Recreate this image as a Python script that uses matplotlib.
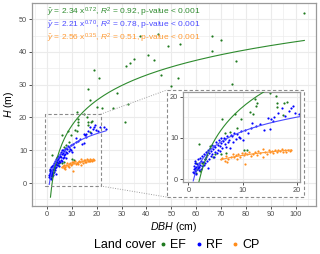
import numpy as np
import matplotlib
matplotlib.use('Agg')
import matplotlib.pyplot as plt
from matplotlib.patches import Rectangle
from matplotlib.lines import Line2D
from matplotlib.ticker import MultipleLocator

plt.rcParams['font.family'] = ['Liberation Sans', 'DejaVu Sans']
plt.rcParams['mathtext.fontset'] = 'custom'
plt.rcParams['mathtext.rm'] = 'Liberation Sans'
plt.rcParams['mathtext.it'] = 'Liberation Sans:italic'

# EF (evergreen forest)
ef_dbh = [16.5, 19.0, 21.0, 17.3, 20.0, 22.1, 26.6, 28.0, 32.4, 31.6, 33.4, 35.0, 40.5, 43.1,
          44.8, 37.4, 66.2, 70.0, 66.2, 53.5, 48.8, 45.7, 52.5, 75.9, 74.3, 49.7, 103.5, 31.4,
          1.6, 1.4, 1.5, 1.8, 2.0, 2.2, 2.5, 3.0, 3.5, 4.0, 4.5, 5.0, 6.0, 6.2, 6.8, 7.0, 7.7,
          8.6, 8.9, 9.7, 10.2, 10.8, 11.4, 11.9, 11.9, 12.3, 12.4, 12.6, 15.0, 16.1, 16.4, 16.4,
          17.5, 17.6, 18.2]
ef_h = [28.7, 34.6, 32.1, 25.3, 23.3, 22.9, 22.9, 27.4, 24.0, 35.7, 36.6, 37.8, 39.1, 37.5,
        45.6, 44.8, 44.8, 43.6, 40.2, 42.3, 41.9, 32.9, 32.1, 37.1, 30.1, 29.6, 52.0, 18.5,
        2.5, 3.9, 1.5, 3.0, 8.5, 2.0, 4.0, 5.0, 6.5, 8.0, 5.5, 6.2, 6.0, 14.7, 11.1, 6.4, 11.5,
        15.9, 12.4, 14.7, 7.2, 7.0, 16.3, 15.9, 21.7, 19.5, 17.7, 18.5, 21.0, 20.2, 18.6, 17.6,
        15.7, 18.6, 18.8]

# RF
rf_dbh = [0.9, 1.0, 1.1, 1.1, 1.2, 1.2, 1.3, 1.3, 1.4, 1.5, 1.5, 1.6, 1.7, 1.7, 1.8, 1.9, 2.0,
          2.0, 2.1, 2.2, 2.3, 2.4, 2.5, 2.6, 2.7, 2.8, 2.9, 3.0, 3.1, 3.2, 3.3, 3.4, 3.5, 3.6,
          3.7, 3.8, 3.9, 4.0, 4.1, 4.2, 4.3, 4.4, 4.5, 4.7, 4.8, 4.9, 5.0, 5.1, 5.2, 5.4, 5.5,
          5.6, 5.8, 5.9, 6.0, 6.1, 6.3, 6.4, 6.5, 6.7, 6.8, 7.0, 7.1, 7.3, 7.5, 7.6, 7.8, 8.0,
          8.2, 8.5, 8.7, 9.0, 9.3, 9.5, 9.8, 10.0, 10.4, 11.0, 11.5, 11.8, 12.5, 13.2, 14.0,
          14.7, 15.0, 15.3, 15.6, 15.8, 16.5, 17.3, 17.8, 18.5, 19.0, 19.3, 19.7, 20.5, 21.3,
          22.9, 23.7]
rf_h = [1.8, 2.5, 3.2, 1.5, 2.0, 3.8, 2.8, 4.3, 2.2, 3.0, 1.2, 3.6, 2.6, 4.8, 3.3, 2.1, 4.0,
        2.9, 5.2, 3.5, 2.4, 4.4, 3.1, 5.6, 4.2, 3.4, 6.0, 4.8, 3.9, 5.4, 6.6, 4.5, 5.9, 7.2,
        2.7, 5.0, 6.3, 7.6, 5.6, 6.9, 8.3, 6.1, 7.3, 5.3, 8.0, 6.7, 7.8, 9.0, 6.4, 8.4, 7.1,
        9.4, 8.0, 6.8, 8.8, 10.0, 7.6, 9.2, 10.1, 8.5, 9.7, 7.9, 10.4, 9.0, 9.5, 7.6, 10.8,
        10.5, 9.1, 11.2, 9.8, 11.0, 10.3, 10.0, 11.6, 9.5, 12.0, 11.1, 12.5, 13.7, 12.8, 13.5,
        12.0, 14.9, 12.3, 14.6, 14.1, 15.1, 16.0, 17.2, 15.4, 16.6, 17.2, 17.7, 16.2, 15.8,
        17.1, 17.2, 16.6]

# CP
cp_dbh = [6.0, 6.3, 6.8, 7.0, 7.4, 7.8, 8.2, 8.5, 8.8, 9.2, 9.5, 9.9, 10.2, 10.4, 10.8, 11.2,
          11.5, 11.9, 12.3, 12.6, 12.9, 13.3, 13.8, 14.1, 14.5, 14.8, 15.1, 15.4, 15.7, 16.0,
          16.3, 16.6, 16.9, 17.2, 17.5, 17.8, 18.1, 18.4, 18.7, 19.0, 7.2, 9.0, 10.4, 13.8]
cp_h = [4.8, 5.2, 4.5, 5.6, 5.0, 5.5, 6.0, 5.3, 5.8, 6.2, 5.4, 6.4, 5.9, 3.7, 6.1, 6.6, 5.7,
        6.0, 6.5, 5.8, 6.8, 6.3, 5.4, 6.7, 6.2, 7.0, 6.5, 6.9, 6.4, 7.2, 6.6, 7.1, 6.8, 7.3,
        6.7, 7.0, 6.6, 7.2, 6.9, 7.0, 4.2, 5.0, 6.3, 7.4]

groups = ['EF', 'RF', 'CP']
pt_colors = ['#1f7a1f', '#0000ff', '#ff8c1a']
ln_colors = ['#2e8b2e', '#4a4aff', '#ff9a33']
eq_labels = [r'$\hat{y}$ = 2.34 x$^{0.72}$, $R^2$ = 0.92, p-value < 0.001',
             r'$\hat{y}$ = 2.21 x$^{0.70}$, $R^2$ = 0.78, p-value < 0.001',
             r'$\hat{y}$ = 2.56 x$^{0.35}$, $R^2$ = 0.51, p-value < 0.001']
data = [(ef_dbh, ef_h), (rf_dbh, rf_h), (cp_dbh, cp_h)]

grid_c = '#ebebeb'
border_c = '#9a9a9a'
tick_c = '#4d4d4d'

fig = plt.figure(figsize=(3.2, 2.54), dpi=100)
ax = fig.add_axes([0.101, 0.189, 0.8865, 0.799])


def style(a, maj, mnr, fs):
    a.xaxis.set_major_locator(MultipleLocator(maj))
    a.yaxis.set_major_locator(MultipleLocator(maj))
    a.xaxis.set_minor_locator(MultipleLocator(mnr))
    a.yaxis.set_minor_locator(MultipleLocator(mnr))
    a.grid(which='major', color=grid_c, lw=0.8)
    a.grid(which='minor', color=grid_c, lw=0.45)
    a.set_axisbelow(True)
    a.tick_params(which='major', length=2.2, width=0.6, color='#333333', labelsize=fs,
                  labelcolor=tick_c, pad=1.5)
    a.tick_params(which='minor', length=0)
    for s in a.spines.values():
        s.set_color(border_c)
        s.set_linewidth(0.9)


# fitted curves H ~ a + b*ln(DBH)
fits = []
for (x, y) in data:
    x = np.array(x)
    y = np.array(y)
    b, a = np.polyfit(np.log(x), y, 1)
    xs = np.linspace(x.min(), x.max(), 200)
    fits.append((xs, a + b * np.log(xs)))

for (x, y), c in zip(data, pt_colors):
    ax.scatter(x, y, s=2.5, color=c, lw=0, zorder=2)
for (xs, ys), c in zip(fits, ln_colors):
    ax.plot(xs, ys, color=c, lw=0.8, zorder=3)

for i, (lab, c) in enumerate(zip(eq_labels, ln_colors)):
    ax.text(0, 52.1 - 4.0 * i, lab, color=c, fontsize=6, va='center', ha='left', zorder=4)

ax.set_xlim(-5.9, 108.2)
ax.set_ylim(-7.0, 54.9)
style(ax, 10, 5, 5.3)
ax.set_xlabel(r'$DBH$ (cm)', fontsize=7.6, labelpad=1)
ax.set_ylabel(r'$H$ (m)', fontsize=7.6, labelpad=2)

# zoom box and connectors
ax.add_patch(Rectangle((-0.8, -0.9), 22.4, 21.9, fill=False, ec='#8a8a8a', lw=0.8,
                       ls=(0, (3, 2)), zorder=4))
ax.plot([21.6, 48.3], [21.0, 28.4], color='#a0a0a0', lw=0.7, ls=(0, (1, 1.5)), zorder=4)
ax.plot([21.6, 48.3], [-0.9, -4.3], color='#a0a0a0', lw=0.7, ls=(0, (1, 1.5)), zorder=4)
ax.add_patch(Rectangle((48.3, -4.3), 55.0, 32.7, fc='white', ec='#8a8a8a', lw=0.8,
                       ls=(0, (3, 2)), zorder=5))

# inset
axi = fig.add_axes([0.573, 0.283, 0.3645, 0.355])
for (x, y), c in zip(data, pt_colors):
    axi.scatter(x, y, s=2.5, color=c, lw=0, zorder=2)
for (xs, ys), c in zip(fits, ln_colors):
    axi.plot(xs, ys, color=c, lw=0.8, zorder=3)
axi.set_xlim(-0.92, 20.6)
axi.set_ylim(-0.73, 21.2)
style(axi, 10, 5, 5.3)

# legend
fig.text(0.295, 0.035, 'Land cover', fontsize=9, va='center', ha='left')
handles = [Line2D([], [], marker='o', ls='', ms=1.8, color=c, mec=c) for c in pt_colors]
fig.legend(handles, groups, ncol=3, loc='center', bbox_to_anchor=(0.655, 0.035),
           frameon=False, fontsize=9, handlelength=0.6, handletextpad=0.3,
           columnspacing=0.7, borderpad=0, borderaxespad=0)

fig.savefig('out.png', dpi=100)
